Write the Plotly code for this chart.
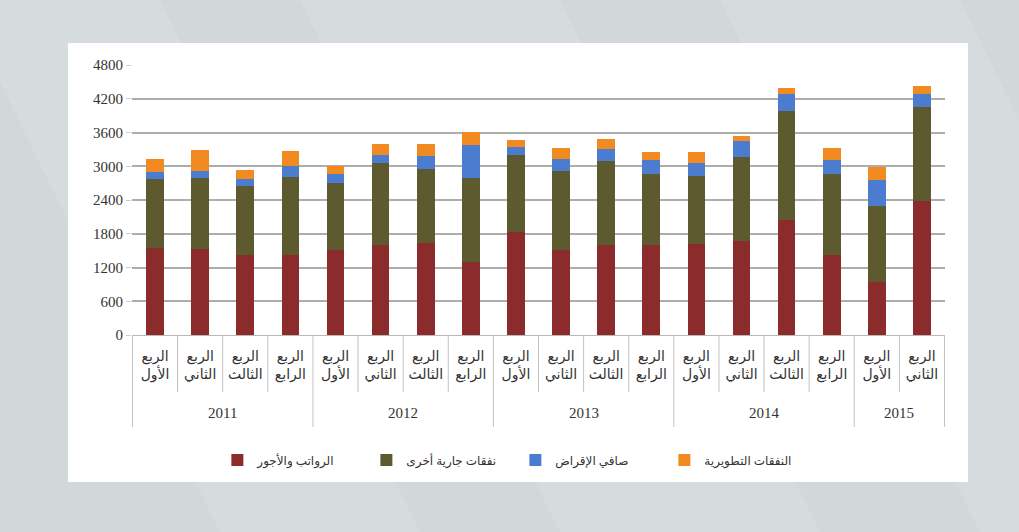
import plotly.graph_objects as go

# Quarterly expenditure breakdown, 2011 Q1 - 2015 Q2
year_names = ["2011", "2012", "2013", "2014", "2015"]
quarters_per_year = [4, 4, 4, 4, 2]
quarter_names = ["الربع<br>الأول", "الربع<br>الثاني", "الربع<br>الثالث", "الربع<br>الرابع"]

salaries = [1555, 1530, 1425, 1425, 1510, 1600, 1630, 1305, 1835,
            1520, 1595, 1595, 1610, 1670, 2045, 1420, 950, 2375]
other_current = [1220, 1265, 1220, 1380, 1200, 1460, 1330, 1490, 1360,
                 1400, 1505, 1265, 1220, 1500, 1940, 1440, 1350, 1680]
net_lending = [125, 115, 120, 195, 155, 145, 220, 590, 150,
               205, 205, 250, 220, 285, 295, 250, 455, 225]
development = [230, 385, 160, 265, 145, 195, 220, 225, 130,
               195, 175, 135, 195, 75, 105, 210, 225, 140]

y_ticks = [0, 600, 1200, 1800, 2400, 3000, 3600, 4200, 4800]

series = [
    ("الرواتب والأجور", salaries, "#8c2b2b"),
    ("نفقات جارية أخرى", other_current, "#5d5a30"),
    ("صافي الإقراض", net_lending, "#4b7cd0"),
    ("النفقات التطويرية", development, "#f28a22"),
]

# one unique category per quarter, labelled with the quarter name only
cat_ids, cat_text = [], []
for yr, n in zip(year_names, quarters_per_year):
    for q in range(n):
        cat_ids.append(f"{yr}-Q{q + 1}")
        cat_text.append(quarter_names[q])

fig = go.Figure()
for name, vals, color in series:
    fig.add_trace(go.Bar(
        x=cat_ids, y=vals, name=name,
        marker=dict(color=color, line=dict(width=0)),
    ))

W, H = 1019, 532
L, R, T, B = 132, 74, 65, 197
pw, ph = W - L - R, H - T - B


def px_x(x):
    return (x - L) / pw


def px_y(y):
    return (H - B - y) / ph


shapes = []
# faint diagonal light bands in the grey backdrop
for x0, x1 in [(-40, 160), (300, 560), (720, 960)]:
    shapes.append(dict(
        type="path", xref="paper", yref="paper", layer="below",
        path=(f"M {px_x(x0)},{px_y(0)} L {px_x(x1)},{px_y(0)} "
              f"L {px_x(x1 + 260)},{px_y(H)} L {px_x(x0 + 260)},{px_y(H)} Z"),
        fillcolor="rgba(255,255,255,0.10)", line=dict(width=0),
    ))
# white chart panel
shapes.append(dict(
    type="rect", xref="paper", yref="paper", layer="below",
    x0=px_x(68), x1=px_x(968), y0=px_y(482), y1=px_y(43),
    fillcolor="white", line=dict(width=0),
))

# category separators below the axis: short between quarters, long between years
divider_color = "#c2c2c2"
year_edges = [0]
for n in quarters_per_year:
    year_edges.append(year_edges[-1] + n)
for i in range(len(cat_ids) + 1):
    long_line = i in year_edges
    shapes.append(dict(
        type="line", xref="x", yref="paper",
        x0=i - 0.5, x1=i - 0.5, y0=0, y1=px_y(427 if long_line else 392),
        line=dict(color=divider_color, width=1),
    ))

annotations = []
for k, yr in enumerate(year_names):
    center = (year_edges[k] + year_edges[k + 1] - 1) / 2
    annotations.append(dict(
        x=center, y=px_y(413), xref="x", yref="paper", text=yr,
        showarrow=False, xanchor="center", yanchor="middle",
        font=dict(family="Liberation Serif", size=15, color="#333333"),
    ))

fig.update_layout(
    width=W, height=H,
    margin=dict(l=L, r=R, t=T, b=B),
    paper_bgcolor="#d2d8da",
    plot_bgcolor="rgba(0,0,0,0)",
    barmode="stack",
    bargap=0.61,
    shapes=shapes,
    annotations=annotations,
    font=dict(family="Liberation Serif, DejaVu Sans", size=12, color="#333333"),
    showlegend=True,
    legend=dict(
        orientation="h", x=0.105, xanchor="left", y=-0.463, yanchor="middle",
        font=dict(family="Liberation Serif, DejaVu Sans", size=12, color="#333333"),
        itemwidth=30, traceorder="normal", bgcolor="rgba(0,0,0,0)",
        entrywidth=104, entrywidthmode="pixels",
    ),
    xaxis=dict(
        type="category",
        tickvals=cat_ids, ticktext=cat_text,
        showgrid=False,
        showline=True, linecolor="#b8b8b8", linewidth=1,
        ticks="", ticklabelstandoff=8,
        tickangle=0,
        tickfont=dict(family="Liberation Serif, DejaVu Sans", size=14, color="#333333"),
    ),
    yaxis=dict(
        range=[0, 4800], tickvals=y_ticks,
        showgrid=True, gridcolor="#adadad", gridwidth=1.5,
        zeroline=False, showline=False,
        ticks="outside", ticklen=5, tickcolor="#cccccc",
        tickfont=dict(family="Liberation Serif", size=15, color="#333333"),
    ),
)

fig.write_html("out.html")
